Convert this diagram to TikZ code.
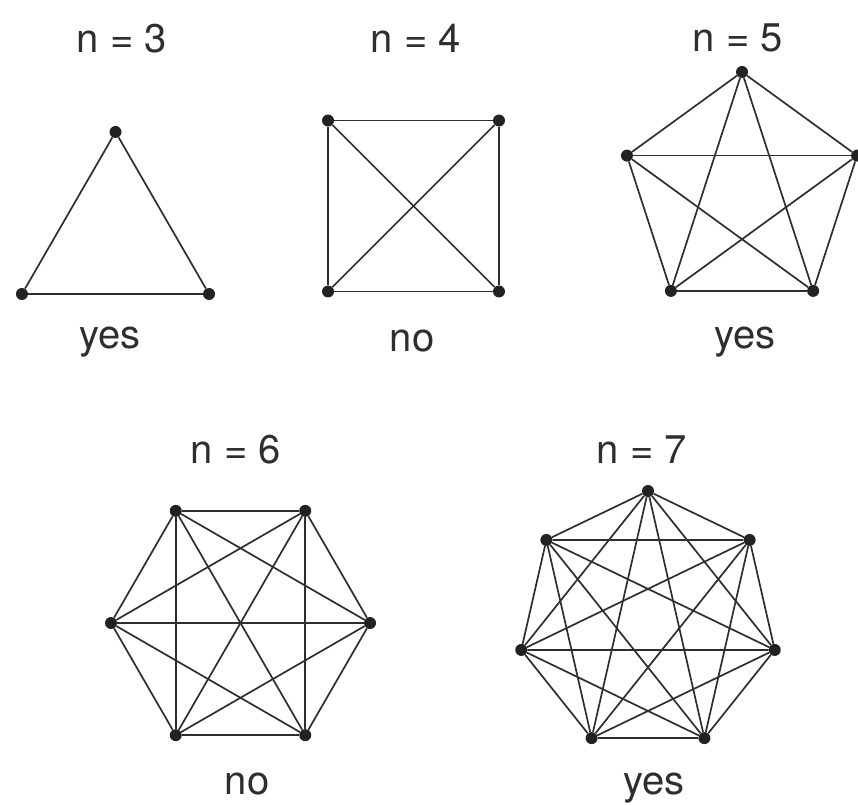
\documentclass[tikz,border=0pt]{standalone}
\usepackage{fontspec}
\setmainfont{TeX Gyre Heros}
\usetikzlibrary{calc}
\definecolor{inkg}{HTML}{2E2E2E}
\definecolor{dotg}{HTML}{222222}
\tikzset{
  vtx/.style={circle,fill=dotg,inner sep=0pt,minimum size=12pt},
  edg/.style={inkg,line width=1.7pt},
  lbl/.style={font=\fontsize{40}{44}\selectfont,text=inkg,anchor=base,inner sep=0pt}
}
\begin{document}
\begin{tikzpicture}[x=1pt,y=1pt]
\useasboundingbox (0,0) rectangle (858,804);
% complete graphs: name/order/centre/radius/first angle
\foreach \g/\n/\cx/\cy/\r/\rot in {a/3/115.5/564/108/90, b/4/413.5/598/120.9/45,
    c/5/742/611/121/90, d/6/240.5/181/129.5/0, e/7/648/183/130/90}{
  \foreach \k in {1,...,\n}
    \node[vtx] (\g\k) at ($(\cx,\cy)+({\rot+360*(\k-1)/\n}:\r)$) {};
  \foreach \i in {1,...,\n}
    \foreach \j in {1,...,\n}
      {\ifnum\j>\i \draw[edg] (\g\i) -- (\g\j);\fi}
}
\node[lbl] (ta) at (122,751) {n = 3};
\node[lbl] (tb) at (416,751) {n = 4};
\node[lbl] (tc) at (738,752) {n = 5};
\node[lbl] (td) at (236,341) {n = 6};
\node[lbl] (te) at (642,341) {n = 7};
\node[lbl] (la) at (110,455) {yes};
\node[lbl] (lb) at (412,453) {no};
\node[lbl] (lc) at (745,455) {yes};
\node[lbl] (ld) at (247,10) {no};
\node[lbl] (le) at (654,10) {yes};
\end{tikzpicture}
\end{document}
